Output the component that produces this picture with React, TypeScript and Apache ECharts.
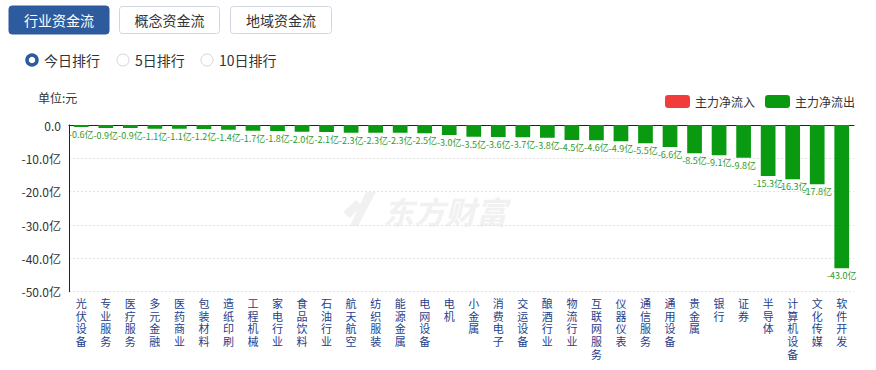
import React, { useEffect, useRef } from "react";
import * as echarts from "echarts";

const categories = [
  "光伏设备", "专业服务", "医疗服务", "多元金融", "医药商业", "包装材料", "造纸印刷", "工程机械",
  "家电行业", "食品饮料", "石油行业", "航天航空", "纺织服装", "能源金属", "电网设备", "电机",
  "小金属", "消费电子", "交运设备", "酿酒行业", "物流行业", "互联网服务", "仪器仪表", "通信服务",
  "通用设备", "贵金属", "银行", "证券", "半导体", "计算机设备", "文化传媒", "软件开发",
];
const outflow = [
  -0.6, -0.9, -0.9, -1.1, -1.1, -1.2, -1.4, -1.7, -1.8, -2.0, -2.1, -2.3, -2.3, -2.3, -2.5, -3.0,
  -3.5, -3.6, -3.7, -3.8, -4.5, -4.6, -4.9, -5.5, -6.6, -8.5, -9.1, -9.8, -15.3, -16.3, -17.8, -43.0,
];
const inflow: (number | null)[] = categories.map(() => null);
const tabs = ["行业资金流", "概念资金流", "地域资金流"];
const ranks = ["今日排行", "5日排行", "10日排行"];

const FONT = '"Noto Sans CJK SC", "Microsoft YaHei", sans-serif';
const TIGHT_FONT = '"Liberation Sans", "Noto Sans CJK SC", sans-serif';
const BLUE = "#2d5b9e";
const GREEN = "#0a9a12";
const RED = "#f23b3b";

export default function App() {
  const ref = useRef<HTMLDivElement>(null);
  useEffect(() => {
    if (!ref.current) return;
    const chart = echarts.init(ref.current, undefined, { renderer: "svg" });
    const tabX = [9, 119.5, 230.5];
    const tabW = [100, 100, 101];
    const radioX = [32, 123, 207];
    const graphic: any[] = [];
    tabs.forEach((t, i) => {
      const active = i === 0;
      graphic.push({
        type: "rect",
        shape: { x: tabX[i], y: active ? 6 : 6.5, width: tabW[i], height: active ? 28 : 27, r: 3 },
        style: { fill: active ? BLUE : "#fff", stroke: active ? BLUE : "#cfd6e0", lineWidth: 1 },
      });
      graphic.push({
        type: "text",
        x: tabX[i] + tabW[i] / 2,
        y: 20,
        style: { text: t, fill: active ? "#fff" : "#333", font: `14px ${FONT}`, align: "center", verticalAlign: "middle" },
      });
    });
    ranks.forEach((t, i) => {
      const active = i === 0;
      graphic.push({
        type: "circle",
        shape: { cx: radioX[i], cy: 60, r: active ? 5 : 6 },
        style: { fill: "#fff", stroke: active ? BLUE : "#d3d7de", lineWidth: active ? 3.5 : 1 },
      });
      graphic.push({
        type: "text",
        x: radioX[i] + 12,
        y: 60,
        style: { text: t, fill: "#333", font: `14px ${FONT}`, verticalAlign: "middle" },
      });
    });
    graphic.push({
      type: "text",
      x: 38,
      y: 97,
      style: { text: "单位:元", fill: "#333", font: `12px ${FONT}`, verticalAlign: "middle" },
    });
    // watermark
    graphic.push({
      type: "polygon",
      shape: { points: [[343, 212], [356, 200], [362, 206], [350, 218]] },
      style: { fill: "#f1f1f1" },
    });
    graphic.push({
      type: "polygon",
      shape: { points: [[366, 192], [376, 192], [358, 226], [350, 226]] },
      style: { fill: "#f1f1f1" },
    });
    graphic.push({
      type: "text",
      x: 383,
      y: 210,
      style: { text: "东方财富", fill: "#f1f1f1", font: `italic bold 31px ${FONT}`, verticalAlign: "middle" },
    });

    chart.setOption({
      animation: false,
      textStyle: { fontFamily: FONT },
      graphic,
      legend: {
        right: 16,
        top: 90,
        itemWidth: 25,
        itemHeight: 13,
        itemGap: 10,
        icon: "roundRect",
        textStyle: { fontSize: 12, color: "#333" },
        data: ["主力净流入", "主力净流出"],
      },
      grid: { left: 69, right: 22, top: 125, bottom: 78.3, containLabel: false },
      xAxis: [
        {
          type: "category",
          data: categories,
          position: "bottom",
          axisLine: { show: false },
          axisTick: { show: false },
          axisLabel: {
            interval: 0,
            color: "#27408b",
            fontSize: 11,
            fontFamily: TIGHT_FONT,
            lineHeight: 12.7,
            margin: 6,
            verticalAlign: "top",
            formatter: (v: string) => v.split("").join("\n"),
          },
        },
        {
          type: "category",
          data: categories,
          position: "top",
          axisLine: { show: true, onZero: false, lineStyle: { color: "#222", width: 1 } },
          axisTick: { show: false },
          axisLabel: { show: false },
        },
      ],
      yAxis: {
        type: "value",
        min: -50,
        max: 0,
        interval: 10,
        axisLine: { show: true, lineStyle: { color: "#222" } },
        axisTick: { show: false },
        axisLabel: {
          color: "#333",
          fontSize: 12,
          margin: 8,
          formatter: (v: number) => (v === 0 ? "0.0" : v.toFixed(1) + "亿"),
        },
        splitLine: { show: true, lineStyle: { color: "#e3e3e3", type: [2, 2] } },
      },
      series: [
        {
          name: "主力净流入",
          type: "bar",
          data: inflow,
          itemStyle: { color: RED },
          barWidth: "60%",
        },
        {
          name: "主力净流出",
          type: "bar",
          data: outflow,
          barGap: "-100%",
          barWidth: "60%",
          itemStyle: { color: GREEN },
          label: {
            show: true,
            position: "bottom",
            distance: 3,
            color: "#2e9a2e",
            fontSize: 9,
            formatter: (p: any) => p.value.toFixed(1) + "亿",
          },
        },
      ],
    });
    return () => chart.dispose();
  }, []);
  return (
    <div style={{ position: "fixed", left: 0, top: 0, width: 876, height: 370, background: "#fff" }}>
      <div ref={ref} style={{ width: 876, height: 370 }} />
    </div>
  );
}
